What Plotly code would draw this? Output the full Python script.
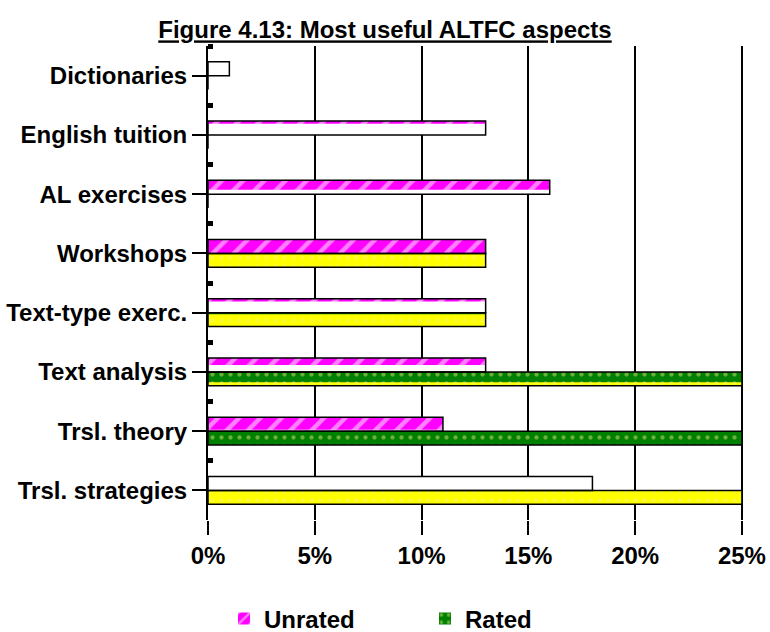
import plotly.graph_objects as go

categories = ["Dictionaries", "English tuition", "AL exercises", "Workshops",
              "Text-type exerc.", "Text analysis", "Trsl. theory", "Trsl. strategies"]
unrated = [1, 13, 16, 13, 13, 13, 11, 18]
rated = [0, 0, 0, 13, 13, 25, 25, 25]
x_ticks = [0, 5, 10, 15, 20, 25]
x_tick_labels = ["0%", "5%", "10%", "15%", "20%", "25%"]

# style: share of each bar's height drawn with the pattern fill
unrated_pattern_share = [0, 0.2, 0.68, 1.0, 0.2, 0.5, 0.9, 0.0]
rated_pattern_share = [0, 0, 0, 0, 0.12, 0.75, 1.0, 0.0]

BAR_H = 0.235
MAGENTA = "#FF00FF"
GREEN = "#008000"
YELLOW = "#FFFF00"
FONT = dict(family="Liberation Sans, Arial, sans-serif", size=24, color="black", weight="bold")

ypos = list(range(len(categories)))
fig = go.Figure()

# base fills
fig.add_trace(go.Bar(y=ypos, x=unrated, orientation="h", width=BAR_H, offset=-BAR_H,
                     marker=dict(color="white", line=dict(width=0)),
                     showlegend=False, hoverinfo="skip"))
fig.add_trace(go.Bar(y=ypos, x=rated, orientation="h", width=BAR_H, offset=0,
                     marker=dict(color=YELLOW, line=dict(width=0),
                                 pattern=dict(shape=".", fgcolor="#F4F480", bgcolor=YELLOW,
                                              size=9, solidity=0.15, fillmode="overlay")),
                     showlegend=False, hoverinfo="skip"))
# pattern portions
fig.add_trace(go.Bar(y=ypos, x=unrated, orientation="h", name="Unrated",
                     width=[BAR_H * s for s in unrated_pattern_share], offset=-BAR_H,
                     marker=dict(color=MAGENTA, line=dict(width=0),
                                 pattern=dict(shape="/", fgcolor="white", bgcolor=MAGENTA,
                                              size=15, solidity=0.3, fillmode="overlay"))))
fig.add_trace(go.Bar(y=ypos, x=rated, orientation="h", name="Rated",
                     width=[BAR_H * s for s in rated_pattern_share], offset=0,
                     marker=dict(color=GREEN, line=dict(width=0),
                                 pattern=dict(shape=".", fgcolor="#D8E070", bgcolor=GREEN,
                                              size=9, solidity=0.18, fillmode="overlay"))))
# outlines
fig.add_trace(go.Bar(y=ypos, x=unrated, orientation="h", width=BAR_H, offset=-BAR_H,
                     marker=dict(color="rgba(0,0,0,0)", line=dict(width=1.5, color="black")),
                     showlegend=False, hoverinfo="skip"))
fig.add_trace(go.Bar(y=ypos, x=rated, orientation="h", width=BAR_H, offset=0,
                     marker=dict(color="rgba(0,0,0,0)", line=dict(width=1.5, color="black")),
                     showlegend=False, hoverinfo="skip"))

boundaries = [k + 0.5 for k in range(-1, len(categories) - 1)]

fig.update_layout(
    width=770, height=632,
    margin=dict(l=208, r=27, t=46, b=112, autoexpand=False),
    paper_bgcolor="white", plot_bgcolor="white",
    barmode="overlay",
    font=FONT,
    title=dict(text="<u>Figure 4.13: Most useful ALTFC aspects</u>",
               x=0.5, xanchor="center", xref="container",
               y=1 - 30 / 632, yanchor="middle", font=FONT),
    xaxis=dict(range=[0, 25.05], tickvals=x_ticks, ticktext=x_tick_labels,
               showgrid=True, gridcolor="black", gridwidth=2,
               ticks="outside", ticklen=14, tickwidth=2, tickcolor="black",
               showline=False, zeroline=False, tickfont=FONT, automargin=False),
    yaxis=dict(range=[len(categories) - 0.5, -0.5], tickvals=ypos, ticktext=categories,
               showgrid=False, zeroline=False,
               showline=True, linecolor="black", linewidth=2,
               ticks="outside", ticklen=14, tickwidth=2, tickcolor="black",
               minor=dict(tickvals=boundaries, ticks="inside", ticklen=5, tickwidth=5,
                          tickcolor="black"),
               tickfont=FONT, automargin=False),
    legend=dict(orientation="h", xref="container", yref="container",
                x=224 / 770, xanchor="left", y=1 - 619 / 632, yanchor="middle",
                font=FONT, entrywidth=156, entrywidthmode="pixels",
                bgcolor="rgba(0,0,0,0)"),
)

fig.write_html("out.html")
